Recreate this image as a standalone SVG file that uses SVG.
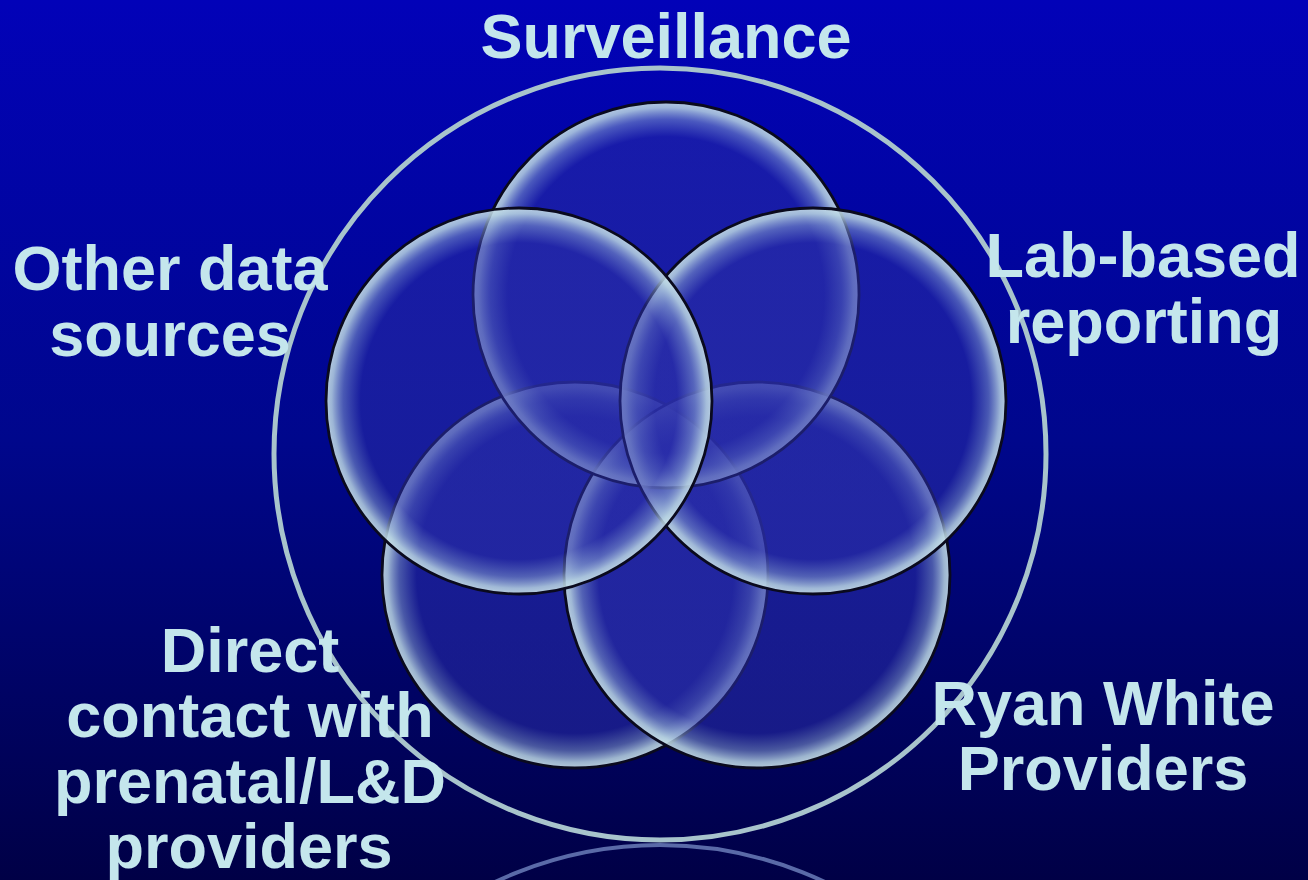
<svg xmlns="http://www.w3.org/2000/svg" width="1308" height="880" viewBox="0 0 1308 880">
  <defs>
    <linearGradient id="bg" x1="0" y1="0" x2="0" y2="1">
      <stop offset="0" stop-color="#0202b8"/>
      <stop offset="0.5" stop-color="#00078c"/>
      <stop offset="1" stop-color="#000046"/>
    </linearGradient>
    <radialGradient id="glass" cx="0.5" cy="0.5" r="0.5">
      <stop offset="0" stop-color="#2a2eaa" stop-opacity="0.55"/>
      <stop offset="0.82" stop-color="#2a2eaa" stop-opacity="0.55"/>
      <stop offset="0.91" stop-color="#7a90cc" stop-opacity="0.6"/>
      <stop offset="0.97" stop-color="#b8d4e2" stop-opacity="0.85"/>
      <stop offset="1" stop-color="#c8e0e8" stop-opacity="0.9"/>
    </radialGradient>
  </defs>
  <style>
    .set { fill: url(#glass); stroke: #0a0a1e; stroke-width: 2.8; }
    .lbl { font-family: "Liberation Sans", Arial, sans-serif; font-weight: bold; font-size: 63px; fill: #c4e6ec; text-anchor: middle; }
  </style>
  <rect x="0" y="0" width="1308" height="880" fill="url(#bg)"/>
  <g id="outer">
    <circle cx="660" cy="454" r="386" fill="none" stroke="#a8c4cc" stroke-width="5"/>
    <circle cx="660" cy="1231" r="386" fill="none" stroke="#5a6aa8" stroke-width="4"/>
  </g>
  <g id="connectors"></g>
  <g id="circle-direct"><circle class="set" cx="575" cy="575" r="193"/></g>
  <g id="circle-ryan"><circle class="set" cx="757" cy="575" r="193"/></g>
  <g id="circle-surveillance"><circle class="set" cx="666" cy="295" r="193"/></g>
  <g id="circle-lab"><circle class="set" cx="813" cy="401" r="193"/></g>
  <g id="circle-other"><circle class="set" cx="519" cy="401" r="193"/></g>
  <g id="label-surveillance"><text class="lbl" x="666" y="58">Surveillance</text></g>
  <g id="label-other"><text class="lbl" x="170" y="290">Other data</text><text class="lbl" x="170" y="356">sources</text></g>
  <g id="label-lab"><text class="lbl" x="1143" y="277">Lab-based</text><text class="lbl" x="1144" y="343">reporting</text></g>
  <g id="label-direct"><text class="lbl" x="250" y="672">Direct</text><text class="lbl" x="250" y="737">contact with</text><text class="lbl" x="250" y="803">prenatal/L&amp;D</text><text class="lbl" x="249" y="868">providers</text></g>
  <g id="label-ryan"><text class="lbl" x="1103" y="725">Ryan White</text><text class="lbl" x="1103" y="790">Providers</text></g>
</svg>
